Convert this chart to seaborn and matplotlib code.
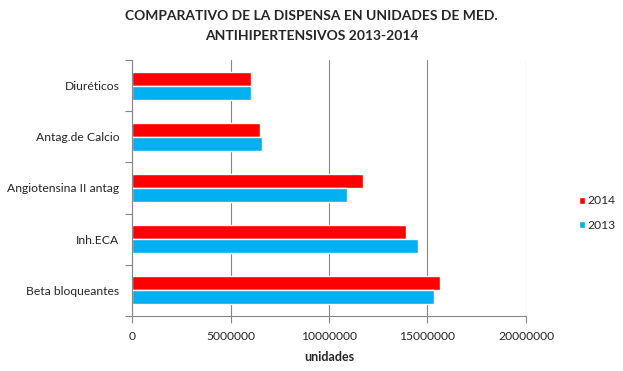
import numpy as np
import pandas as pd
import seaborn as sns
import matplotlib.pyplot as plt
from matplotlib.patches import Patch

# data (units dispensed)
categorias = ['Diuréticos', 'Antag.de Calcio', 'Angiotensina II antag', 'Inh.ECA', 'Beta bloqueantes']
anios = ['2014', '2013']
valores_2014 = [6030000, 6500000, 11740000, 13930000, 15610000]
valores_2013 = [6030000, 6600000, 10930000, 14540000, 15350000]
colores = {'2014': '#FF0000', '2013': '#00B0F0'}

df = pd.DataFrame({
    'categoria': categorias * 2,
    'anio': ['2014'] * len(categorias) + ['2013'] * len(categorias),
    'unidades': valores_2014 + valores_2013,
})

sns.set_theme(style='white')
plt.rcParams['font.family'] = ['Lato', 'DejaVu Sans']

fig = plt.figure(figsize=(6.23, 3.71), dpi=100)
ax = fig.add_axes([132 / 623, 1 - 316 / 371, (526 - 132) / 623, (316 - 60) / 371])

sns.barplot(data=df, y='categoria', x='unidades', hue='anio', order=categorias,
            hue_order=anios, palette=colores, orient='h', width=0.55,
            saturation=1, errorbar=None, ax=ax, legend=False)

ax.set_xlim(0, 20000000)
ax.set_ylim(len(categorias) - 0.5, -0.5)
ax.set_xticks([0, 5000000, 10000000, 15000000, 20000000])
ax.set_xticklabels(['0', '5000000', '10000000', '15000000', '20000000'], fontsize=8.7)
ax.xaxis.grid(True, color='#868686', linewidth=0.8)
ax.set_axisbelow(True)
ax.tick_params(axis='x', length=5, width=0.8, color='#868686', direction='out', bottom=True, pad=6)
ax.tick_params(axis='y', which='major', length=0, labelsize=8.7, pad=9)
ax.set_yticks(np.arange(-0.5, len(categorias), 1), minor=True)
ax.tick_params(axis='y', which='minor', length=5, width=0.8, color='#868686', direction='out', left=True)

for lado in ['top', 'right']:
    ax.spines[lado].set_visible(False)
for lado in ['left', 'bottom']:
    ax.spines[lado].set_color('#868686')
    ax.spines[lado].set_linewidth(0.8)

ax.set_ylabel('')
ax.set_xlabel('unidades', fontsize=9, fontweight='bold', labelpad=6)

fig.text(0.5, 1 - 16 / 371, 'COMPARATIVO DE LA DISPENSA EN UNIDADES DE MED.',
         ha='center', va='center', fontsize=10, fontweight='bold')
fig.text(0.5, 1 - 36 / 371, 'ANTIHIPERTENSIVOS 2013-2014',
         ha='center', va='center', fontsize=10, fontweight='bold')

handles = [Patch(facecolor=colores[a], label=a) for a in anios]
fig.legend(handles=handles, loc='center left', bbox_to_anchor=(568 / 623, 1 - 213 / 371),
           frameon=False, fontsize=8.7, handlelength=0.5, handleheight=0.5,
           handletextpad=0.2, labelspacing=1.1)

fig.savefig('out.png', dpi=100)
